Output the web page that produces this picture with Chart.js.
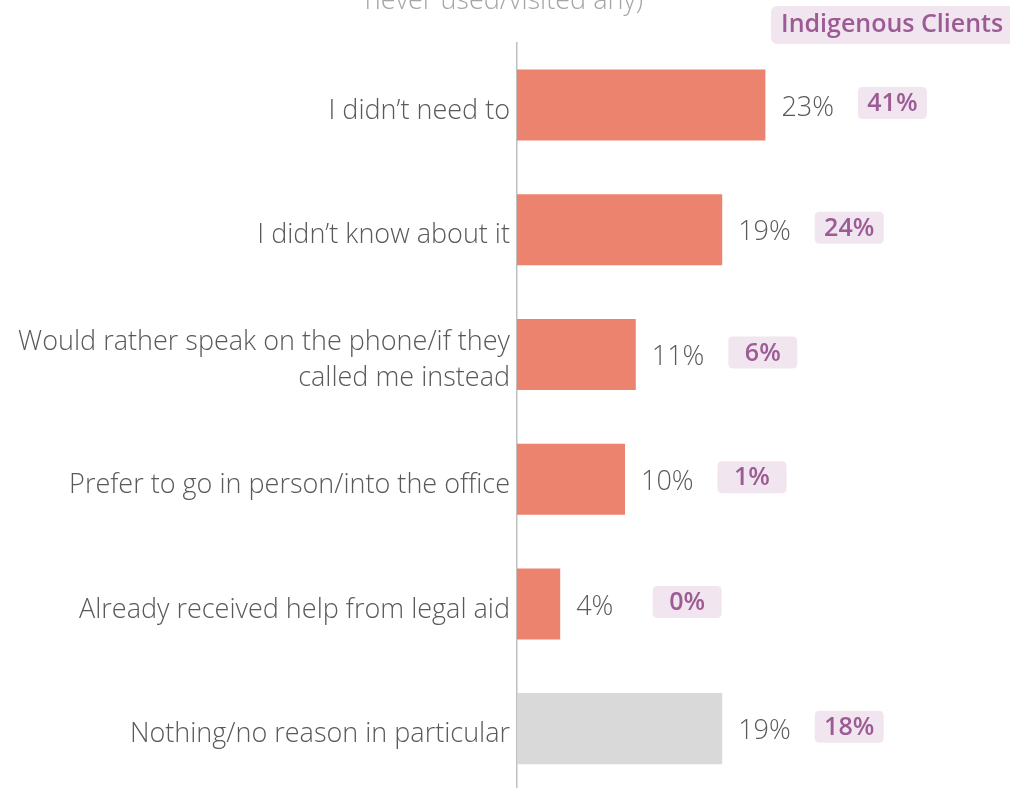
<!DOCTYPE html>
<html>
<head>
<meta charset="utf-8">
<script src="https://cdn.jsdelivr.net/npm/chart.js@4/dist/chart.umd.min.js"></script>
<style>
  html, body { margin: 0; padding: 0; background: #fff; overflow: hidden; }
  #wrap { position: absolute; left: 0; top: 0; width: 1010px; height: 816px; }
</style>
</head>
<body>
<div id="wrap"><canvas id="c" width="1010" height="816"></canvas></div>
<script>
// Reasons for not using the online services (all clients vs Indigenous clients)
const categories = [
  "I didn\u2019t need to",
  "I didn\u2019t know about it",
  ["Would rather speak on the phone/if they", "called me instead"],
  "Prefer to go in person/into the office",
  "Already received help from legal aid",
  "Nothing/no reason in particular"
];
const allClients = [23, 19, 11, 10, 4, 19];
const indigenousClients = [41, 24, 6, 1, 0, 18];
const barColors = ["#ec836e", "#ec836e", "#ec836e", "#ec836e", "#ec836e", "#d9d9d9"];
const titleTail = "never used/visited any)";
const badgeTitle = "Indigenous Clients";

const FONT = "'Open Sans', 'Segoe UI', sans-serif";
const TEXT_GREY = "#595959";
const BADGE_BG = "#f1e5f0";
const BADGE_FG = "#9c5b94";

function roundRect(ctx, x, y, w, h, r) {
  ctx.beginPath();
  ctx.moveTo(x + r, y);
  ctx.lineTo(x + w - r, y);
  ctx.quadraticCurveTo(x + w, y, x + w, y + r);
  ctx.lineTo(x + w, y + h - r);
  ctx.quadraticCurveTo(x + w, y + h, x + w - r, y + h);
  ctx.lineTo(x + r, y + h);
  ctx.quadraticCurveTo(x, y + h, x, y + h - r);
  ctx.lineTo(x, y + r);
  ctx.quadraticCurveTo(x, y, x + r, y);
  ctx.closePath();
}

const labelsPlugin = {
  id: 'labels',
  afterDatasetsDraw(chart) {
    const ctx = chart.ctx;
    const meta = chart.getDatasetMeta(0);
    ctx.save();
    meta.data.forEach((bar, i) => {
      const y = bar.y;
      // value for all clients
      ctx.font = "300 27px " + FONT;
      ctx.fillStyle = TEXT_GREY;
      ctx.textAlign = "left";
      ctx.textBaseline = "middle";
      ctx.fillText(allClients[i] + "%", bar.x + 16, y + 3);
      // badge for Indigenous clients
      const cx = bar.x + 127;
      const bw = 69, bh = 32;
      ctx.fillStyle = BADGE_BG;
      roundRect(ctx, cx - bw / 2, y - bh / 2 - 2, bw, bh, 5);
      ctx.fill();
      ctx.font = "600 25px " + FONT;
      ctx.fillStyle = BADGE_FG;
      ctx.textAlign = "center";
      ctx.fillText(indigenousClients[i] + "%", cx, y - 1);
    });

    // tail of the title, partly above the top edge
    ctx.font = "300 27px " + FONT;
    ctx.fillStyle = "#a6a6a6";
    ctx.textAlign = "center";
    ctx.textBaseline = "alphabetic";
    ctx.fillText(titleTail, 504, 9);

    // column heading badge
    ctx.font = "600 25px " + FONT;
    const tw = ctx.measureText(badgeTitle).width;
    const bx = 771, by = 6, bhh = 38;
    ctx.fillStyle = BADGE_BG;
    roundRect(ctx, bx, by, Math.max(tw + 22, 240), bhh, 7);
    ctx.fill();
    ctx.fillStyle = BADGE_FG;
    ctx.textAlign = "left";
    ctx.textBaseline = "middle";
    ctx.fillText(badgeTitle, bx + 10, by + bhh / 2);
    ctx.restore();
  }
};

new Chart(document.getElementById('c'), {
  type: 'bar',
  data: {
    labels: categories,
    datasets: [{
      data: allClients,
      backgroundColor: barColors,
      borderWidth: 0,
      barPercentage: 0.57,
      categoryPercentage: 1.0
    }]
  },
  options: {
    indexAxis: 'y',
    responsive: false,
    animation: false,
    layout: { padding: { top: 42.6, bottom: 0, right: 7, left: 0 } },
    plugins: { legend: { display: false }, tooltip: { enabled: false }, title: { display: false } },
    scales: {
      x: { display: false, min: 0, max: 45 },
      y: {
        grid: { display: false, drawTicks: false },
        border: { display: true, color: "#c0c0c0", width: 1.5 },
        ticks: {
          color: TEXT_GREY,
          padding: 7,
          labelOffset: 6,
          font: { family: FONT, size: 27, weight: 300, lineHeight: 1.33 }
        },
        afterFit(scale) { scale.width = 517; }
      }
    }
  },
  plugins: [labelsPlugin]
});
</script>
</body>
</html>
